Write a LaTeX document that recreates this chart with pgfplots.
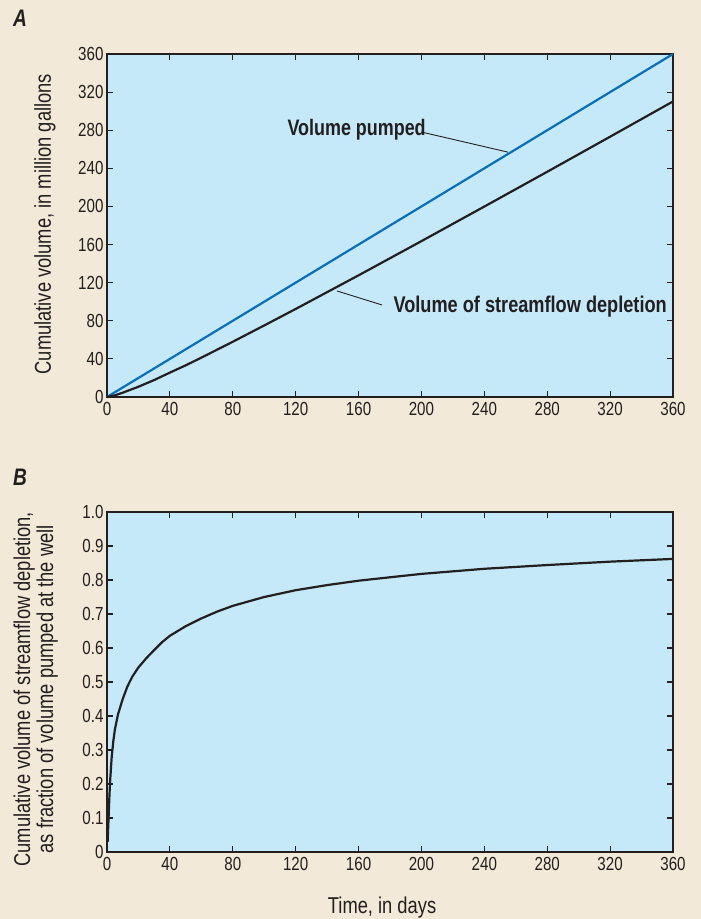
\documentclass[border=0pt]{standalone}
\usepackage{fontspec}
\setmainfont{Liberation Sans}[FakeStretch=0.8]
\usepackage{pgfplots}
\pgfplotsset{compat=1.18}

\definecolor{bgpage}{RGB}{243,233,216}
\definecolor{bgplot}{RGB}{197,233,249}
\definecolor{pumpblue}{RGB}{10,110,184}
\definecolor{ink}{RGB}{35,31,32}

\pgfplotsset{
  usgs/.style={
    scale only axis,
    width=566bp,
    xmin=0, xmax=360,
    xtick={0,40,...,360},
    tick align=inside,
    major tick length=6bp,
    axis line style={draw=ink, line width=1.6bp},
    every tick/.style={draw=ink, line width=1.2bp},
    axis background/.style={fill=bgplot},
    tick label style={font=\fontsize{19}{20}\selectfont, text=ink},
    xticklabel style={yshift=-2bp},
    label style={font=\fontsize{23}{23}\selectfont, text=ink},
    /pgf/number format/assume math mode=true,
    clip=false,
  }
}

\begin{document}
\begin{tikzpicture}
\fill[bgpage] (0,0) rectangle (701bp,-919bp);
\useasboundingbox (0,0) rectangle (701bp,-919bp);

\node[font=\fontsize{24}{24}\selectfont\bfseries\itshape, text=ink] at (20bp,-18bp) {A};
\node[font=\fontsize{24}{24}\selectfont\bfseries\itshape, text=ink] at (20bp,-477bp) {B};

% Panel A
\begin{axis}[usgs,
  at={(107bp,-397bp)}, anchor=south west,
  height=343bp,
  ymin=0, ymax=360,
  ytick={0,40,...,360},
  ylabel={Cumulative volume, in million gallons},
  ylabel style={at={(axis description cs:-0.1095,0.504)}, anchor=center},
]
\addplot[pumpblue, line width=2.2bp] coordinates {
  (0,0) (40,40) (100,100) (200,200) (300,300) (360,360)
};
\addplot[ink, line width=2.2bp] coordinates {
  (0,0) (5,1.75) (10,4.5) (13,6.4) (20,10.8) (25,14.3) (30,17.8) (40,25.6)
  (50,33.2) (60,41.3) (80,58) (100,75.1) (120,92.4) (160,127.7)
  (200,163.6) (240,199.9) (280,236.4) (320,273.2) (360,310.2)
};
\node[anchor=base west, font=\fontsize{22.5}{22.5}\selectfont\bfseries, text=ink]
  at (axis cs:112.6,274) {Volume pumped};
\draw[ink, line width=0.9bp] (axis cs:200.3,278) -- (axis cs:255,257);
\node[anchor=base west, font=\fontsize{22.8}{22.8}\selectfont\bfseries, text=ink]
  at (axis cs:180,88.2) {Volume of streamflow depletion};
\draw[ink, line width=0.9bp] (axis cs:146.3,111.3) -- (axis cs:174.9,96.6);
\end{axis}

% Panel B
\begin{axis}[usgs,
  at={(107bp,-852bp)}, anchor=south west,
  height=340bp,
  ymin=0, ymax=1,
  ytick={0,0.1,...,1.0},
  yticklabels={0,0.1,0.2,0.3,0.4,0.5,0.6,0.7,0.8,0.9,1.0},
  ylabel={Cumulative volume of streamflow depletion,\\as fraction of volume pumped at the well},
  ylabel style={at={(axis description cs:-0.126,0.479)}, anchor=center, align=center},
  xlabel={Time, in days},
  xlabel style={at={(axis description cs:0.486,-0.182)}, anchor=base},
]
\addplot[ink, line width=2.2bp] coordinates {
  (0.4,0.03) (1,0.1) (1.5,0.16) (2,0.21) (3,0.28) (4,0.325) (5,0.36) (7,0.405)
  (10,0.45) (13,0.487) (16,0.515) (20,0.543) (25,0.57) (30,0.594) (35,0.617)
  (40,0.636) (50,0.664) (60,0.687) (70,0.707) (80,0.724) (100,0.75)
  (120,0.77) (140,0.785) (160,0.798) (200,0.818) (240,0.833) (280,0.844)
  (320,0.854) (360,0.862)
};
\end{axis}
\end{tikzpicture}
\end{document}
